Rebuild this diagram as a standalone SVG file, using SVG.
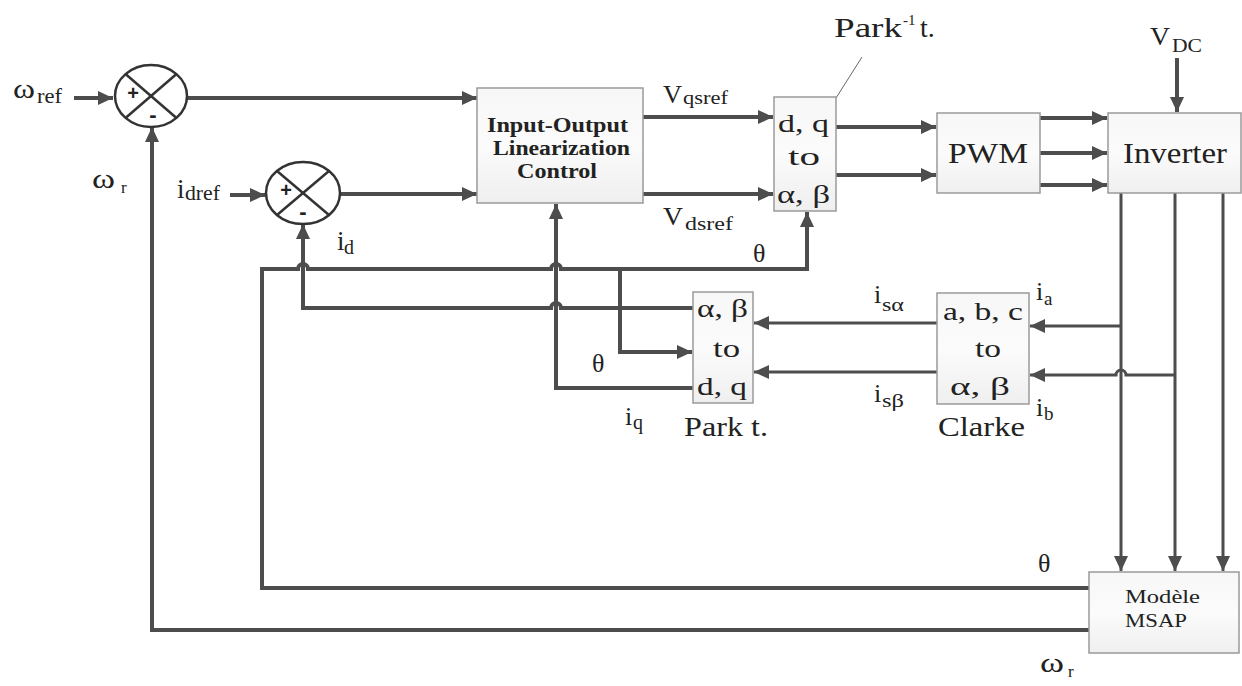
<svg xmlns="http://www.w3.org/2000/svg" width="1242" height="686" viewBox="0 0 1242 686">
<defs>
<linearGradient id="bg" x1="0" y1="0" x2="0" y2="1">
<stop offset="0" stop-color="#f7f7f7"/>
<stop offset="0.5" stop-color="#fbfbfb"/>
<stop offset="1" stop-color="#efefef"/>
</linearGradient>
<marker id="ah" markerUnits="userSpaceOnUse" markerWidth="16" markerHeight="14" refX="15" refY="7" orient="auto">
<path d="M0,0 L15,7 L0,14 z" fill="#4d4d4d"/>
</marker>
</defs>
<style>
.t{font-family:"Liberation Serif","Times New Roman",serif;fill:#222}
.b{font-weight:bold}
.box{fill:url(#bg);stroke:#9a9a9a;stroke-width:1.5}
.sum{fill:#fff;stroke:#333;stroke-width:2.5}
.x{stroke:#333;stroke-width:2.5}
.w{fill:none;stroke:#4d4d4d;stroke-width:4}
.wt{fill:none;stroke:#4d4d4d;stroke-width:3}
.a{marker-end:url(#ah)}
.sg{font-family:"Liberation Sans",Arial,sans-serif;font-weight:bold;fill:#222;text-anchor:middle}
</style>
<rect width="1242" height="686" fill="#fff"/>

<g id="connectors">
<path class="w a" d="M74,98 H113"/>
<path class="w a" d="M187,98 H477"/>
<path class="w a" d="M230,195 H265"/>
<path class="w a" d="M340,194 H477"/>
<path class="w a" d="M643,117 H773"/>
<path class="w a" d="M643,194 H773"/>
<path class="w a" d="M836,127 H936"/>
<path class="w a" d="M836,175 H936"/>
<path class="w a" d="M1040,118 H1107"/>
<path class="w a" d="M1040,153 H1107"/>
<path class="w a" d="M1040,185 H1107"/>
<path class="w a" d="M1177,58 V112"/>
<path class="wt a" d="M1121,193 V571"/>
<path class="wt a" d="M1175,193 V571"/>
<path class="wt a" d="M1223,193 V571"/>
<path class="wt a" d="M1121,326 H1030"/>
<path class="wt a" d="M1175,375 H1126 a5,5 0 0 0 -10,0 H1030"/>
<path class="wt a" d="M937,323 H754"/>
<path class="wt a" d="M937,372 H754"/>
<path class="w a" d="M1089,588 H262 V269 H298 a5,5 0 0 1 10,0 H551 a5,5 0 0 1 10,0 H807 V212"/>
<path class="w a" d="M620,269 V352 H692"/>
<path class="w a" d="M1089,630 H152 V127"/>
<path class="w a" d="M693,308 H561 a5,5 0 0 0 -10,0 H303 V224"/>
<path class="w a" d="M693,388 H556 V204"/>
<path d="M836,98 L862,57" stroke="#666" stroke-width="1" fill="none"/>
</g>

<g id="sum1">
<ellipse class="sum" cx="151" cy="96" rx="36" ry="31"/>
<line class="x" x1="125.5" y1="74" x2="176.5" y2="118"/>
<line class="x" x1="125.5" y1="118" x2="176.5" y2="74"/>
<text class="sg" x="133" y="100" font-size="20">+</text>
<text class="sg" x="153" y="122" font-size="22">-</text>
</g>

<g id="sum2">
<ellipse class="sum" cx="303" cy="193" rx="37" ry="31"/>
<line class="x" x1="277" y1="171" x2="329" y2="215"/>
<line class="x" x1="277" y1="215" x2="329" y2="171"/>
<text class="sg" x="286" y="197" font-size="20">+</text>
<text class="sg" x="303" y="219" font-size="22">-</text>
</g>

<g id="iolc">
<rect class="box" x="477" y="88" width="166" height="115"/>
<text class="t b" x="487" y="132" font-size="20" textLength="141" lengthAdjust="spacingAndGlyphs">Input-Output</text>
<text class="t b" x="493" y="155" font-size="20" textLength="137" lengthAdjust="spacingAndGlyphs">Linearization</text>
<text class="t b" x="517" y="178" font-size="20" textLength="80" lengthAdjust="spacingAndGlyphs">Control</text>
</g>

<g id="parkinv">
<rect class="box" x="774" y="97" width="62" height="114"/>
<text class="t" x="778" y="132" font-size="26" textLength="51" lengthAdjust="spacingAndGlyphs">d, q</text>
<text class="t" x="788" y="165" font-size="26" textLength="32" lengthAdjust="spacingAndGlyphs">to</text>
<text class="t" x="777" y="203" font-size="26" textLength="53" lengthAdjust="spacingAndGlyphs">α, β</text>
</g>

<g id="pwm">
<rect class="box" x="937" y="113" width="103" height="80"/>
<text class="t" x="948" y="163" font-size="29" textLength="80" lengthAdjust="spacingAndGlyphs">PWM</text>
</g>

<g id="inverter">
<rect class="box" x="1108" y="113" width="133" height="80"/>
<text class="t" x="1123" y="163" font-size="29" textLength="104" lengthAdjust="spacingAndGlyphs">Inverter</text>
</g>

<g id="park">
<rect class="box" x="693" y="292" width="60" height="111"/>
<text class="t" x="697" y="317" font-size="25" textLength="51" lengthAdjust="spacingAndGlyphs">α, β</text>
<text class="t" x="713" y="357" font-size="25" textLength="27" lengthAdjust="spacingAndGlyphs">to</text>
<text class="t" x="697" y="395" font-size="25" textLength="50" lengthAdjust="spacingAndGlyphs">d, q</text>
</g>

<g id="clarke">
<rect class="box" x="937" y="293" width="92" height="111"/>
<text class="t" x="943" y="320" font-size="25" textLength="80" lengthAdjust="spacingAndGlyphs">a, b, c</text>
<text class="t" x="975" y="357" font-size="25" textLength="26" lengthAdjust="spacingAndGlyphs">to</text>
<text class="t" x="950" y="395" font-size="25" textLength="60" lengthAdjust="spacingAndGlyphs">α, β</text>
</g>

<g id="msap">
<rect class="box" x="1089" y="572" width="150" height="81"/>
<text class="t" x="1125" y="603" font-size="18" textLength="75" lengthAdjust="spacingAndGlyphs">Modèle</text>
<text class="t" x="1125" y="627" font-size="18" textLength="62" lengthAdjust="spacingAndGlyphs">MSAP</text>
</g>

<g id="labels">
<text class="t" x="13" y="98" font-size="28" textLength="22" lengthAdjust="spacingAndGlyphs">ω</text>
<text class="t" x="37" y="103" font-size="20" textLength="25" lengthAdjust="spacingAndGlyphs">ref</text>
<text class="t" x="92" y="188" font-size="28" textLength="23" lengthAdjust="spacingAndGlyphs">ω</text>
<text class="t" x="121" y="193" font-size="17">r</text>
<text class="t" x="177" y="198" font-size="27">i</text>
<text class="t" x="185" y="200" font-size="20" textLength="35" lengthAdjust="spacingAndGlyphs">dref</text>
<text class="t" x="337" y="250" font-size="27">i</text>
<text class="t" x="344" y="254" font-size="20">d</text>
<text class="t" x="663" y="103" font-size="26" textLength="19" lengthAdjust="spacingAndGlyphs">V</text>
<text class="t" x="683" y="104" font-size="19" textLength="45" lengthAdjust="spacingAndGlyphs">qsref</text>
<text class="t" x="663" y="225" font-size="26" textLength="20" lengthAdjust="spacingAndGlyphs">V</text>
<text class="t" x="685" y="230" font-size="19" textLength="48" lengthAdjust="spacingAndGlyphs">dsref</text>
<text class="t" x="834" y="37" font-size="28" textLength="68" lengthAdjust="spacingAndGlyphs">Park</text>
<text class="t" x="903" y="25" font-size="15">-1</text>
<text class="t" x="920" y="37" font-size="28">t.</text>
<text class="t" x="1150" y="45" font-size="25" textLength="20" lengthAdjust="spacingAndGlyphs">V</text>
<text class="t" x="1172" y="52" font-size="18" textLength="30" lengthAdjust="spacingAndGlyphs">DC</text>
<text class="t" x="753" y="262" font-size="26">θ</text>
<text class="t" x="592" y="372" font-size="26">θ</text>
<text class="t" x="625" y="425" font-size="26">i</text>
<text class="t" x="633" y="429" font-size="20">q</text>
<text class="t" x="684" y="436" font-size="27" textLength="84" lengthAdjust="spacingAndGlyphs">Park t.</text>
<text class="t" x="938" y="436" font-size="27" textLength="87" lengthAdjust="spacingAndGlyphs">Clarke</text>
<text class="t" x="874" y="303" font-size="26">i</text>
<text class="t" x="882" y="311" font-size="19" textLength="22" lengthAdjust="spacingAndGlyphs">sα</text>
<text class="t" x="874" y="402" font-size="26">i</text>
<text class="t" x="882" y="407" font-size="19" textLength="22" lengthAdjust="spacingAndGlyphs">sβ</text>
<text class="t" x="1036" y="300" font-size="26">i</text>
<text class="t" x="1044" y="305" font-size="19">a</text>
<text class="t" x="1036" y="416" font-size="26">i</text>
<text class="t" x="1044" y="420" font-size="19">b</text>
<text class="t" x="1038" y="572" font-size="26">θ</text>
<text class="t" x="1040" y="672" font-size="28" textLength="24" lengthAdjust="spacingAndGlyphs">ω</text>
<text class="t" x="1068" y="677" font-size="17">r</text>
</g>
</svg>
